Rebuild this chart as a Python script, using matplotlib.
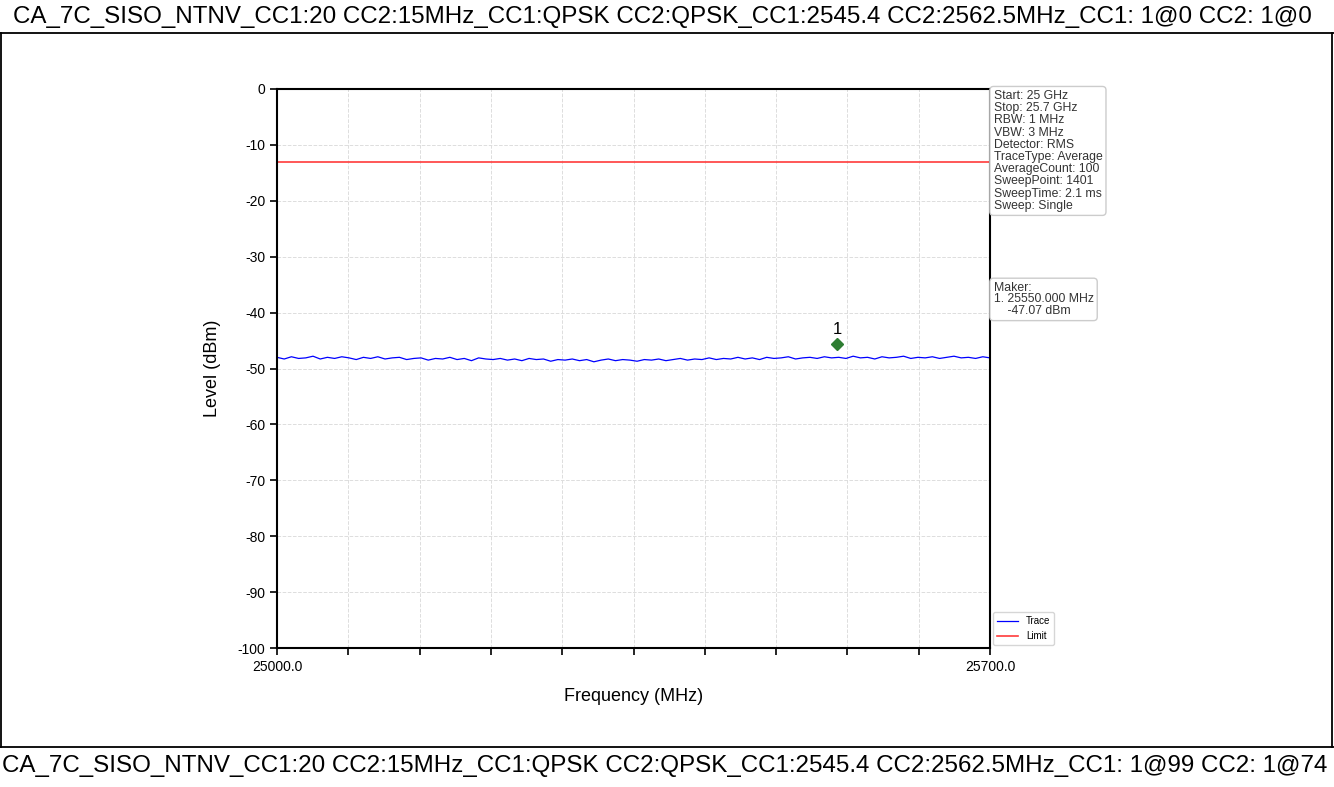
import numpy as np
import matplotlib.pyplot as plt
from matplotlib.lines import Line2D

plt.rcParams['font.family'] = ['Liberation Sans', 'DejaVu Sans']
plt.rcParams['axes.unicode_minus'] = False

header = "CA_7C_SISO_NTNV_CC1:20 CC2:15MHz_CC1:QPSK CC2:QPSK_CC1:2545.4 CC2:2562.5MHz_CC1: 1@0 CC2: 1@0"
footer = "CA_7C_SISO_NTNV_CC1:20 CC2:15MHz_CC1:QPSK CC2:QPSK_CC1:2545.4 CC2:2562.5MHz_CC1: 1@99 CC2: 1@74"

# trace (dBm), evenly spaced from 25000 to 25700 MHz
trace_level = [
    -48.0, -48.3, -47.9, -48.2, -48.1, -47.8, -48.3, -48.0, -48.2, -47.9,
    -48.1, -48.4, -48.0, -48.2, -47.9, -48.3, -48.1, -48.0, -48.4, -48.2,
    -48.1, -48.5, -48.2, -48.3, -48.0, -48.4, -48.2, -48.6, -48.1, -48.3,
    -48.4, -48.2, -48.5, -48.3, -48.6, -48.2, -48.4, -48.3, -48.7, -48.4,
    -48.5, -48.3, -48.6, -48.4, -48.8, -48.5, -48.3, -48.6, -48.4, -48.5,
    -48.7, -48.4, -48.5, -48.3, -48.6, -48.4, -48.2, -48.5, -48.3, -48.4,
    -48.1, -48.4, -48.2, -48.3, -48.0, -48.3, -48.1, -48.4, -48.0, -48.2,
    -48.1, -47.9, -48.3, -48.1, -48.0, -48.2, -47.9, -48.1, -48.0, -48.2,
    -47.8, -48.1, -48.0, -48.3, -47.9, -48.1, -48.0, -47.8, -48.2, -48.0,
    -48.1, -47.9, -48.2, -48.0, -47.8, -48.1, -48.0, -48.2, -47.9, -48.1,
]
freq = np.linspace(25000, 25700, len(trace_level))
limit_level = -13
marker_freq = 25550.0
marker_level = -45.6

info_text = ("Start: 25 GHz\nStop: 25.7 GHz\nRBW: 1 MHz\nVBW: 3 MHz\nDetector: RMS\n"
             "TraceType: Average\nAverageCount: 100\nSweepPoint: 1401\n"
             "SweepTime: 2.1 ms\nSweep: Single")
maker_text = "Maker:\n1. 25550.000 MHz\n    -47.07 dBm"

W, H = 1334, 787
fig = plt.figure(figsize=(W / 100, H / 100), dpi=100)

# table frame around the chart
def hline(y):
    fig.add_artist(Line2D([0, 1], [1 - y / H, 1 - y / H], color="black", lw=1.3))

def vline(x, y0, y1):
    fig.add_artist(Line2D([x / W, x / W], [1 - y0 / H, 1 - y1 / H], color="black", lw=1.3))

hline(33); hline(747)
vline(1, 33, 747); vline(1332, 33, 747)
fig.text(662 / W, 1 - 17 / H, header, ha="center", va="center", fontsize=17.4)
fig.text(665 / W, 1 - 766 / H, footer, ha="center", va="center", fontsize=17.4)

ax = fig.add_axes([277 / W, 1 - 648 / H, (990 - 277) / W, (648 - 89) / H])
ax.plot(freq, trace_level, color="blue", lw=0.9, label="Trace")
ax.axhline(limit_level, color="#ff3b3b", lw=1.2, label="Limit")
ax.plot(marker_freq, marker_level, marker="D", color="#2e7d32", ms=6)
ax.text(marker_freq, marker_level + 1.2, "1", ha="center", va="bottom", fontsize=12)

ax.set_xlim(25000, 25700)
ax.set_ylim(-100, 0)
ax.set_xticks(np.linspace(25000, 25700, 11))
ax.set_xticklabels(["25000.0"] + [""] * 9 + ["25700.0"])
ax.set_yticks(np.arange(-100, 1, 10))
ax.tick_params(labelsize=10, direction="out", length=5, width=1.2)
ax.grid(True, linestyle="--", color="#dddddd", lw=0.7)
for s in ax.spines.values():
    s.set_linewidth(1.5)
ax.set_xlabel("Frequency (MHz)", fontsize=13, labelpad=10)
ax.set_ylabel("Level (dBm)", fontsize=13, labelpad=12)

ax.text(1.005, 0.998, info_text, transform=ax.transAxes, ha="left", va="top",
        fontsize=8.8, linespacing=1.02, color="#333333",
        bbox=dict(boxstyle="round,pad=0.3", fc="white", ec="#cccccc"))
ax.text(1.005, 0.655, maker_text, transform=ax.transAxes, ha="left", va="top",
        fontsize=8.8, linespacing=0.95, color="#333333",
        bbox=dict(boxstyle="round,pad=0.3", fc="white", ec="#cccccc"))
ax.legend(loc="lower left", bbox_to_anchor=(1.0, 0.0), fontsize=7, frameon=True,
          handlelength=2.2, borderaxespad=0.3)

fig.savefig("out.png", dpi=100)
